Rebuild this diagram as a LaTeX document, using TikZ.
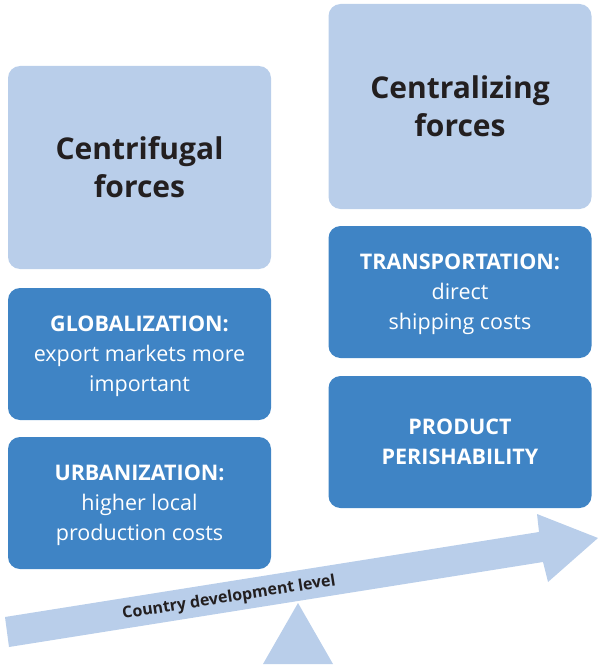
\documentclass[tikz,border=0pt]{standalone}
\usepackage{fontspec}
\setmainfont{Open Sans}
\usepackage{tikz}
\usepackage{xcolor}
\definecolor{paleblue}{HTML}{B9CEEA}
\definecolor{deepblue}{HTML}{3F84C5}
\definecolor{inkdark}{HTML}{231F20}

\begin{document}
\begin{tikzpicture}[x=1pt,y=-1pt,
  forcebox/.style={fill=paleblue,rounded corners=12pt,minimum width=263pt,minimum height=203pt,
    align=center,text=inkdark,font=\fontsize{30}{38}\selectfont\bfseries},
  factorbox/.style={fill=deepblue,rounded corners=12pt,minimum width=263pt,minimum height=132pt,
    align=center,text=white,text depth=0pt,font=\fontsize{21.5}{30}\selectfont}]
\useasboundingbox (0,0) rectangle (598,666);
% development arrow and its pivot
\fill[paleblue] (5,617) -- (539,532) -- (537,514) -- (598,538) -- (548,582) -- (543,562) -- (9,647) -- cycle;
\fill[paleblue] (298,603) -- (333,664) -- (263,664) -- cycle;
\node[rotate=9,text=inkdark,font=\fontsize{16}{18}\selectfont\bfseries] (devlabel) at (229,598) {Country development level};
% left column
\node[forcebox,text depth=0pt] (centrifugal) at (139.5,167.5) {Centrifugal\\forces};
\node[factorbox] (global) at (139.5,354) {\textbf{GLOBALIZATION:}\\export markets more\\important};
\node[factorbox] (urban) at (139.5,503) {\textbf{URBANIZATION:}\\higher local\\production costs};
% right column
\node[forcebox,text depth=0pt,minimum height=205pt] (centralizing) at (460,106.5) {Centralizing\\forces};
\node[factorbox] (transport) at (460,292) {\textbf{TRANSPORTATION:}\\direct\\shipping costs};
\node[factorbox] (perish) at (460,442) {\textbf{PRODUCT}\\\textbf{PERISHABILITY}};
\end{tikzpicture}
\end{document}
